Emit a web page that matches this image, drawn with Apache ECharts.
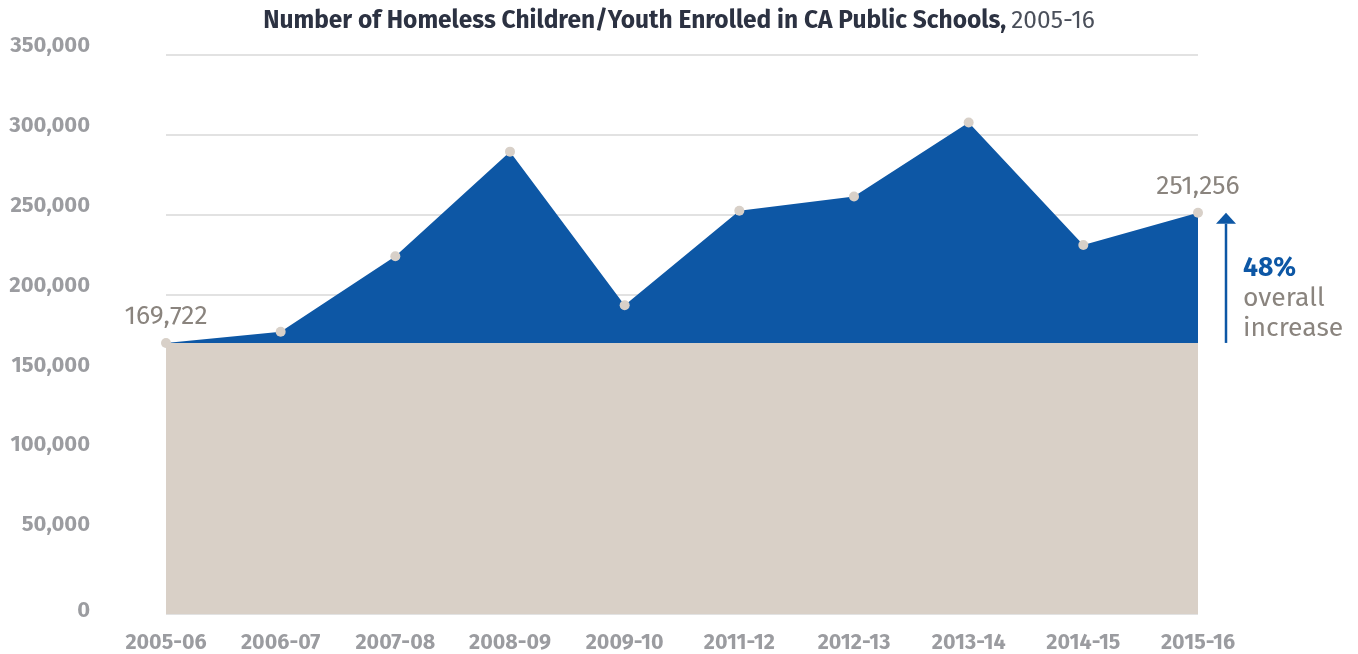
<!DOCTYPE html>
<html>
<head>
<meta charset="utf-8">
<style>
  html, body { margin: 0; padding: 0; background: #ffffff; }
  #chart { width: 1358px; height: 654px; }
</style>
<script src="https://cdn.jsdelivr.net/npm/echarts@6/dist/echarts.min.js"></script>
</head>
<body>
<div id="chart"></div>
<script>
// ---- data ----
const categories = ['2005-06', '2006-07', '2007-08', '2008-09', '2009-10', '2011-12', '2012-13', '2013-14', '2014-15', '2015-16'];
const enrolled = [169722, 176700, 224000, 289500, 193300, 252500, 261400, 307700, 231000, 251256];
const yTicks = [0, 50000, 100000, 150000, 200000, 250000, 300000, 350000];
const titleBold = 'Number of Homeless Children/Youth Enrolled in CA Public Schools,';
const titleRest = '2005-16';
const increaseLabel = '48%';
const increaseText = ['overall', 'increase'];

const FONT = '"Fira Sans", "Noto Sans", sans-serif';
const BLUE = '#0d57a5';
const BEIGE = '#d9d0c7';
const DOT = '#d8d0c8';
const AXIS_GRAY = '#9b9ca0';
const VALUE_GRAY = '#8a847e';

const baseline = enrolled[0];
const lastIdx = enrolled.length - 1;
const fmt = v => v.toLocaleString('en-US');

const mainData = enrolled.map((v, i) => {
  const item = { value: v };
  if (i === 0 || i === lastIdx) {
    item.label = {
      show: true, position: 'top', distance: 8,
      formatter: p => fmt(p.value),
      fontFamily: FONT, fontSize: 26.5, color: VALUE_GRAY
    };
  }
  return item;
});

const chart = echarts.init(document.getElementById('chart'), null, { renderer: 'canvas' });

const option = {
  animation: false,
  backgroundColor: '#ffffff',
  title: {
    text: '{b|' + titleBold + '} {n|' + titleRest + '}',
    left: 'center',
    top: 4,
    textStyle: {
      rich: {
        b: { fontFamily: FONT, fontSize: 24.5, fontWeight: 'bold', color: '#2c3242' },
        n: { fontFamily: FONT, fontSize: 24.5, fontWeight: 'normal', color: '#4a4f5a' }
      }
    }
  },
  grid: { left: 166, right: 160, top: 55, bottom: 39 },
  xAxis: {
    type: 'category',
    data: categories,
    boundaryGap: false,
    axisLine: { show: false },
    axisTick: { show: false },
    splitLine: { show: false },
    axisLabel: {
      margin: 18,
      fontFamily: FONT, fontSize: 21.5, fontWeight: 'bold', color: AXIS_GRAY
    }
  },
  yAxis: {
    type: 'value',
    min: yTicks[0],
    max: yTicks[yTicks.length - 1],
    interval: yTicks[1] - yTicks[0],
    axisLine: { show: false },
    axisTick: { show: false },
    splitLine: { show: true, lineStyle: { color: '#e2e2e2', width: 2 } },
    axisLabel: {
      margin: 76,
      formatter: v => v === 0 ? '{z|0}' : '{a|' + fmt(v) + '}',
      rich: {
        a: { fontFamily: FONT, fontSize: 22, fontWeight: 'bold', color: AXIS_GRAY, padding: [0, 0, 18, 0] },
        z: { fontFamily: FONT, fontSize: 22, fontWeight: 'bold', color: AXIS_GRAY, padding: [0, 0, 6, 0] }
      }
    }
  },
  series: [
    {
      name: 'base',
      type: 'line',
      data: enrolled.map(() => baseline),
      showSymbol: false,
      silent: true,
      z: 1,
      lineStyle: { width: 0 },
      areaStyle: { color: BEIGE, opacity: 1 }
    },
    {
      name: 'enrolled',
      type: 'line',
      data: mainData,
      z: 2,
      symbol: 'circle',
      symbolSize: 10,
      showAllSymbol: true,
      itemStyle: { color: DOT },
      lineStyle: { width: 0, color: BLUE },
      areaStyle: { color: BLUE, opacity: 1, origin: baseline }
    }
  ]
};

chart.setOption(option);

// annotation arrow + text positioned from data coordinates
const pTop = chart.convertToPixel({ gridIndex: 0 }, [lastIdx, enrolled[lastIdx]]);
const pBot = chart.convertToPixel({ gridIndex: 0 }, [lastIdx, baseline]);
const ax = pTop[0] + 28;
const headH = 11, headW = 10;
chart.setOption({
  graphic: [
    {
      type: 'line',
      shape: { x1: ax, y1: pBot[1], x2: ax, y2: pTop[1] + headH },
      style: { stroke: BLUE, lineWidth: 2.5 }
    },
    {
      type: 'polygon',
      shape: { points: [[ax, pTop[1]], [ax - headW, pTop[1] + headH], [ax + headW, pTop[1] + headH]] },
      style: { fill: BLUE }
    },
    {
      type: 'text',
      left: ax + 17,
      top: pBot[1] - 88,
      style: {
        text: '{p|' + increaseLabel + '}\n{t|' + increaseText[0] + '}\n{t|' + increaseText[1] + '}',
        rich: {
          p: { fontFamily: FONT, fontSize: 26.5, fontWeight: 'bold', fill: BLUE, lineHeight: 30 },
          t: { fontFamily: FONT, fontSize: 26.5, fontWeight: 'normal', fill: VALUE_GRAY, lineHeight: 30 }
        }
      }
    }
  ]
});
</script>
</body>
</html>
